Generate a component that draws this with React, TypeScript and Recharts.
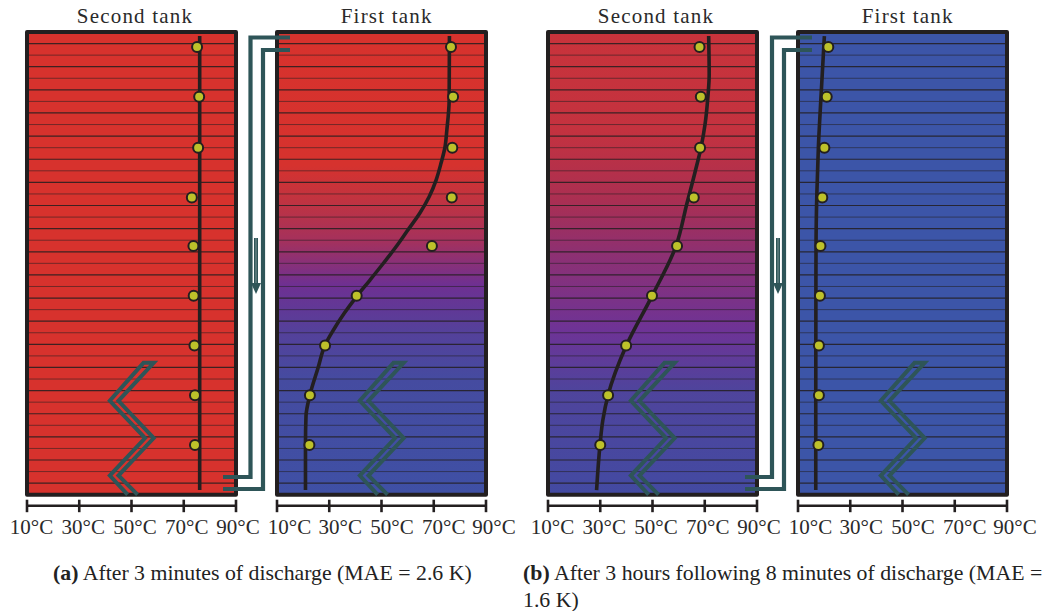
import { ComposedChart, Line, Scatter, XAxis, YAxis, ReferenceArea, ReferenceLine } from 'recharts';

const SERIF = '"Liberation Serif", serif';
const DARK = '#231f20';
const TEAL = '#2e5558';

// temperature axis
const tempTicks = [10, 30, 50, 70, 90];
// the labels sit a bit right of their ticks in the original
const labelShiftSecond = [4.5, 4, 3.5, 3, 2];
const labelShiftFirst = [12.5, 11, 10.5, 10, 8];

// tank layers, counted from the bottom
const layerEdges = [
  1, 2, 3, 4, 5, 6, 7, 8, 9, 10, 11, 12, 13, 14, 15, 16, 17, 18, 19, 20,
  21, 22, 23, 24, 25, 26, 27, 28, 29, 30, 31, 32, 33, 34, 35, 36, 37, 38, 39,
];

// sensors, top to bottom, height in layers
const sensorHeights = [38.7, 34.4, 30.0, 25.7, 21.5, 17.2, 12.9, 8.6, 4.3];
const sensorsA2 = [75.1, 75.9, 75.5, 73.1, 73.7, 73.8, 74.1, 74.3, 74.3];
const sensorsA1 = [76.6, 77.4, 77.1, 76.9, 69.3, 40.5, 28.4, 22.6, 22.4];
const sensorsB2 = [68.0, 68.5, 68.2, 65.8, 59.4, 49.8, 39.9, 33.0, 30.0];
const sensorsB1 = [21.6, 21.0, 20.1, 19.3, 18.6, 18.4, 18.0, 18.0, 17.8];

// simulated profiles
const curveHeightsA2 = [39.65, 0.4];
const curveTempsA2 = [76.1, 76.1];
const curveHeightsA1 = [
  39.65, 34.1, 31.5, 30.05, 28.67, 27.2, 25.73, 24.35, 22.88, 21.41, 20.03,
  18.56, 17.17, 15.7, 14.24, 12.94, 10.95, 8.62, 6.8, 4.3, 0.4,
];
const curveTempsA1 = [
  76.0, 75.9, 75.0, 74.3, 72.8, 70.9, 68.2, 64.7, 60.1, 55.5, 50.8,
  45.6, 40.6, 35.8, 31.6, 28.4, 25.7, 22.6, 21.1, 20.9, 20.9,
];
const curveHeightsB2 = [39.65, 36.3, 34.4, 32, 30.05, 27.9, 25.2, 21.5, 17.17, 12.85, 8.62, 6.46, 4.3, 0.4];
const curveTempsB2 = [71.5, 71.7, 71.2, 70.1, 68.6, 66.3, 63.2, 59.0, 49.8, 39.9, 33.0, 31.0, 29.9, 28.6];
const curveHeightsB1 = [39.65, 34.4, 30.05, 25.9, 21.5, 8.6, 0.4];
const curveTempsB1 = [20.1, 18.8, 17.8, 17.2, 16.9, 16.8, 16.8];

// heat exchanger coil, drawn in each tank
const coilHeights = [0, 1.66, 4.9, 8.12, 11.4, 11.4, 8.12, 4.9, 1.66, 0];
const coilTemps = [48.5, 41.7, 55.2, 41.7, 54.6, 58.5, 45.0, 58.5, 45.0, 52.3];

// background colour from top to bottom of the tank
const gradA2: [number, string][] = [[0, '#d7322d'], [1, '#d7322d']];
const gradA1: [number, string][] = [
  [0, '#d7322d'], [0.287, '#d6322e'], [0.363, '#c13340'], [0.45, '#a5315c'],
  [0.547, '#6e3092'], [0.644, '#55409a'], [0.752, '#454ba0'], [1, '#3f50a5'],
];
const gradB2: [number, string][] = [
  [0, '#c8333b'], [0.21, '#c4323f'], [0.363, '#aa2f52'], [0.471, '#8f3070'],
  [0.644, '#6e3396'], [0.773, '#4f449c'], [1, '#434aa2'],
];
const gradB1: [number, string][] = [[0, '#3c55a8'], [1, '#3c55a8']];

// connecting pipes, in page pixels
const pipes = [
  { x: [223, 250.5, 250.5, 290], y: [477, 477, 37.5, 37.5] },
  { x: [223, 263, 263, 290], y: [489, 489, 50, 50] },
  { x: [745, 772, 772, 812], y: [477, 477, 37.5, 37.5] },
  { x: [745, 784, 784, 812], y: [489, 489, 50, 50] },
];
const arrowX = [256, 778];
const arrowShaftY = [238, 284];
const arrowHeadY = 288;

const toPoints = (hs: number[], ts: number[]) => hs.map((h, i) => ({ h, t: ts[i] }));

function TempTick({ x, y, payload, index, shifts }: any) {
  return (
    <g>
      <line x1={x} x2={x} y1={y - 6} y2={y + 6.5} stroke={DARK} strokeWidth={2.6} />
      <text x={x + shifts[index]} y={y + 28.5} textAnchor="middle" fontFamily={SERIF} fontSize={21} fill="#2a2a2a">
        {payload.value}°C
      </text>
    </g>
  );
}

interface TankProps {
  id: string;
  left: number;
  title: string;
  titleShift: number;
  grad: [number, string][];
  sensors: number[];
  curveHeights: number[];
  curveTemps: number[];
  labelShift: number[];
}

function Tank({ id, left, title, titleShift, grad, sensors, curveHeights, curveTemps, labelShift }: TankProps) {
  const pad = 40;
  return (
    <div style={{ position: 'absolute', left: left - pad, top: 0 }}>
      <div
        style={{
          position: 'absolute', left: titleShift, width: 209 + pad * 2, top: 3, textAlign: 'center',
          fontFamily: SERIF, fontSize: 21, letterSpacing: 1.2, color: '#2a2a2a', lineHeight: '26px',
        }}
      >
        {title}
      </div>
      <ComposedChart
        layout="vertical"
        width={209 + pad * 2}
        height={560}
        margin={{ top: 32, right: pad, bottom: 24.3, left: pad }}
      >
        <defs>
          <linearGradient id={id} x1="0" y1="0" x2="0" y2="1">
            {grad.map(([o, c]) => (
              <stop key={o} offset={o} stopColor={c} />
            ))}
          </linearGradient>
        </defs>
        <XAxis
          type="number"
          domain={[10, 90]}
          ticks={tempTicks}
          interval={0}
          height={30}
          tickSize={0}
          tickMargin={0}
          tickLine={false}
          axisLine={{ stroke: DARK, strokeWidth: 2.6 }}
          tick={<TempTick shifts={labelShift} />}
        />
        <YAxis type="number" dataKey="h" domain={[-0.95, 40]} reversed hide />
        <ReferenceArea x1={10} x2={90} y1={0} y2={40} fill={`url(#${id})`} fillOpacity={1} stroke="none" ifOverflow="visible" />
        {layerEdges.map(h => (
          <ReferenceLine
            key={h}
            y={h}
            stroke="#231f20"
            strokeWidth={h % 2 === 0 ? 1 : 1.2}
            strokeOpacity={h % 2 === 0 ? 0.55 : 0.85}
            ifOverflow="visible"
          />
        ))}
        <ReferenceArea
          x1={10}
          x2={90}
          y1={0}
          y2={40}
          fill="none"
          fillOpacity={0}
          stroke={DARK}
          strokeWidth={4}
          strokeLinejoin="round"
          strokeOpacity={1}
          ifOverflow="visible"
        />
        <Line
          data={toPoints(coilHeights, coilTemps)}
          dataKey="t"
          type="linear"
          stroke={TEAL}
          strokeWidth={4}
          strokeLinejoin="miter"
          dot={false}
          activeDot={false}
          isAnimationActive={false}
        />
        <Line
          data={toPoints(curveHeights, curveTemps)}
          dataKey="t"
          type="monotone"
          stroke={DARK}
          strokeWidth={3.6}
          dot={false}
          activeDot={false}
          isAnimationActive={false}
        />
        <Line
          data={toPoints(sensorHeights, sensors)}
          dataKey="t"
          stroke="none"
          dot={{ r: 5, fill: '#bdc12a', stroke: DARK, strokeWidth: 2, fillOpacity: 1 }}
          activeDot={false}
          isAnimationActive={false}
        />
      </ComposedChart>
    </div>
  );
}

function ArrowHead({ cx, cy }: any) {
  return <polygon points={`${cx - 5},${cy - 5} ${cx + 5},${cy - 5} ${cx},${cy + 6}`} fill={TEAL} />;
}

function Pipes() {
  return (
    <div style={{ position: 'absolute', left: 0, top: 0 }}>
      <ComposedChart width={1044} height={611} margin={{ top: 0, right: 0, bottom: 0, left: 0 }}>
        <XAxis type="number" dataKey="x" domain={[0, 1044]} hide />
        <YAxis type="number" dataKey="y" domain={[0, 611]} reversed hide />
        {pipes.map((p, i) => (
          <Line
            key={i}
            data={p.x.map((x, j) => ({ x, y: p.y[j] }))}
            dataKey="y"
            type="linear"
            stroke={TEAL}
            strokeWidth={4.2}
            dot={false}
            activeDot={false}
            isAnimationActive={false}
          />
        ))}
        {arrowX.map(x => (
          <Line
            key={x}
            data={arrowShaftY.map(y => ({ x, y }))}
            dataKey="y"
            type="linear"
            stroke={TEAL}
            strokeWidth={4}
            dot={false}
            activeDot={false}
            isAnimationActive={false}
          />
        ))}
        {arrowX.map(x => (
          <Line
            key={`c${x}`}
            data={arrowShaftY.map(y => ({ x, y }))}
            dataKey="y"
            type="linear"
            stroke="#8fa6a7"
            strokeWidth={0.8}
            dot={false}
            activeDot={false}
            isAnimationActive={false}
          />
        ))}
        <Scatter
          data={arrowX.map(x => ({ x, y: arrowHeadY }))}
          dataKey="y"
          shape={<ArrowHead />}
          isAnimationActive={false}
        />
      </ComposedChart>
    </div>
  );
}

const captionStyle: React.CSSProperties = {
  position: 'absolute',
  fontFamily: SERIF,
  fontSize: 21.8,
  lineHeight: '27px',
  color: '#222',
  whiteSpace: 'nowrap',
};

export default function App() {
  return (
    <div style={{ position: 'absolute', left: 0, top: 0, width: 1044, height: 611, background: '#fff', overflow: 'hidden' }}>
      <Tank id="tankA2" left={27} title="Second tank" titleShift={3.5} labelShift={labelShiftSecond} grad={gradA2} sensors={sensorsA2} curveHeights={curveHeightsA2} curveTemps={curveTempsA2} />
      <Tank id="tankA1" left={277} title="First tank" titleShift={5.2} labelShift={labelShiftFirst} grad={gradA1} sensors={sensorsA1} curveHeights={curveHeightsA1} curveTemps={curveTempsA1} />
      <Tank id="tankB2" left={548} title="Second tank" titleShift={3.5} labelShift={labelShiftSecond} grad={gradB2} sensors={sensorsB2} curveHeights={curveHeightsB2} curveTemps={curveTempsB2} />
      <Tank id="tankB1" left={798} title="First tank" titleShift={5.2} labelShift={labelShiftFirst} grad={gradB1} sensors={sensorsB1} curveHeights={curveHeightsB1} curveTemps={curveTempsB1} />
      <Pipes />
      <div style={{ ...captionStyle, left: 53, top: 560 }}>
        <b>(a)</b> After 3 minutes of discharge (MAE = 2.6 K)
      </div>
      <div style={{ ...captionStyle, left: 523, top: 560 }}>
        <b>(b)</b> After 3 hours following 8 minutes of discharge (MAE =
        <br />
        1.6 K)
      </div>
    </div>
  );
}
